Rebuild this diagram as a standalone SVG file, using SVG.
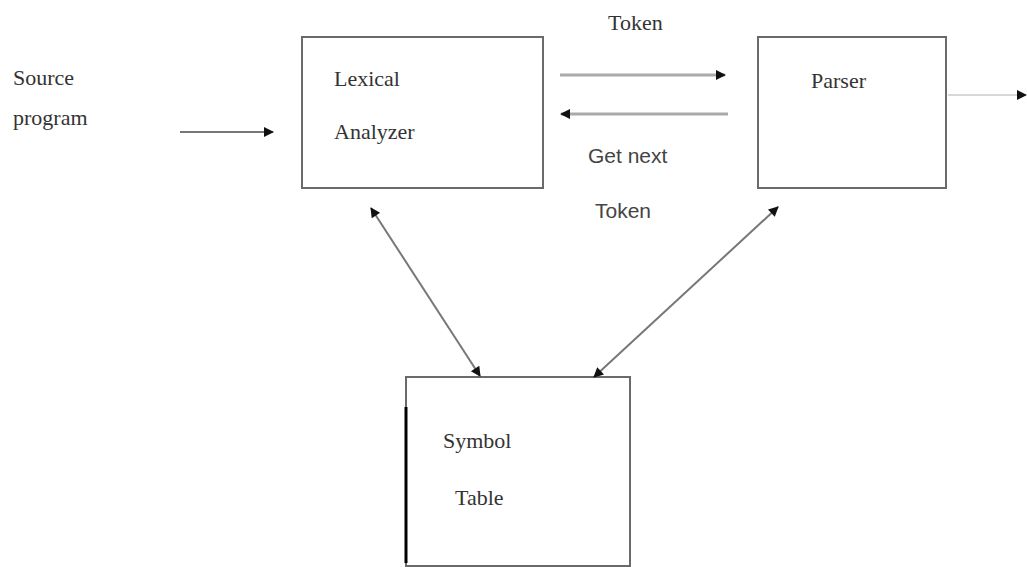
<svg xmlns="http://www.w3.org/2000/svg" width="1027" height="567" viewBox="0 0 1027 567">
<style>
.box{fill:#fff;stroke:#6a6a6a;stroke-width:2}
.serif{font-family:"Liberation Serif","Times New Roman",serif;font-size:22px;fill:#333}
.sans{font-family:"Liberation Sans",Arial,sans-serif;font-size:21px;fill:#444}
.conn{stroke:#777;stroke-width:2;fill:none}
.light{stroke:#aaa;stroke-width:3;fill:none}
.faint{stroke:#d8d8d8;stroke-width:2;fill:none}
</style>
<defs>
<marker id="ah" viewBox="0 0 10 10" refX="9" refY="5" markerWidth="13" markerHeight="10" markerUnits="userSpaceOnUse" orient="auto-start-reverse">
<path d="M0,0 L10,5 L0,10 z" fill="#111"/>
</marker>
</defs>
<rect width="1027" height="567" fill="#fff"/>
<g id="source">
<text class="serif" x="13" y="85">Source</text>
<text class="serif" x="13" y="125">program</text>
</g>
<g id="lexical">
<rect class="box" x="302" y="37" width="241" height="151"/>
<text class="serif" x="334" y="86">Lexical</text>
<text class="serif" x="334" y="139">Analyzer</text>
</g>
<g id="parser">
<rect class="box" x="758" y="37" width="188" height="151"/>
<text class="serif" x="811" y="88">Parser</text>
</g>
<g id="symbol">
<rect class="box" x="406" y="377" width="224" height="189"/>
<line x1="406" y1="407" x2="406" y2="563" stroke="#000" stroke-width="3"/>
<text class="serif" x="443" y="448">Symbol</text>
<text class="serif" x="455" y="505">Table</text>
</g>
<g id="labels">
<text class="serif" x="608" y="30">Token</text>
<text class="sans" x="588" y="163">Get next</text>
<text class="sans" x="595" y="218">Token</text>
</g>
<g id="connectors">
<line class="conn" x1="180" y1="132" x2="273" y2="132" marker-end="url(#ah)"/>
<line class="light" x1="560" y1="75" x2="725" y2="75" marker-end="url(#ah)"/>
<line class="light" x1="728" y1="114" x2="561" y2="114" marker-end="url(#ah)"/>
<line class="faint" x1="948" y1="95" x2="1026" y2="95" marker-end="url(#ah)"/>
<line class="conn" x1="371" y1="208" x2="480" y2="376" marker-start="url(#ah)" marker-end="url(#ah)"/>
<line class="conn" x1="778" y1="207" x2="594" y2="377" marker-start="url(#ah)" marker-end="url(#ah)"/>
</g>
</svg>
